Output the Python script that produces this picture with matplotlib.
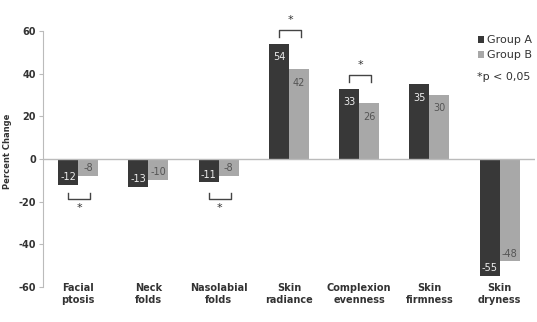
import matplotlib.pyplot as plt
import numpy as np

# data
categories = ['Facial\nptosis', 'Neck\nfolds', 'Nasolabial\nfolds', 'Skin\nradiance',
              'Complexion\nevenness', 'Skin\nfirmness', 'Skin\ndryness']
group_a = [-12, -13, -11, 54, 33, 35, -55]
group_b = [-8, -10, -8, 42, 26, 30, -48]
signif = [0, 2, 3, 4]  # categories with *p < 0,05
yticks = [-60, -40, -20, 0, 20, 40, 60]

dark = '#383838'
light = '#a8a8a8'

fig = plt.figure(figsize=(5.37, 3.22), dpi=100)
ax = fig.add_axes([0.080, 0.109, 0.916, 0.795])

x = np.arange(len(categories))
w = 0.285
bars_a = ax.bar(x - w / 2, group_a, w, color=dark, label='Group A')
bars_b = ax.bar(x + w / 2, group_b, w, color=light, label='Group B')

# value labels inside the bar ends
for bars, vals, col in [(bars_a, group_a, '#eeeeee'), (bars_b, group_b, '#555555')]:
    for b, v in zip(bars, vals):
        cx = b.get_x() + b.get_width() / 2
        if v > 0:
            ax.annotate(str(v), (cx, v), xytext=(0, -6), textcoords='offset points',
                        ha='center', va='top', fontsize=7, color=col)
        else:
            ax.annotate(str(v), (cx, v), xytext=(0, 2), textcoords='offset points',
                        ha='center', va='bottom', fontsize=7, color=col)

# significance brackets
for i in signif:
    x0, x1 = i - 0.14, i + 0.17
    if group_a[i] < 0:
        yb, yl = -19, -16
        ax.plot([x0, x0, x1, x1], [yl, yb, yb, yl], color='#444444', lw=1, clip_on=False)
        ax.text((x0 + x1) / 2, -23, '*', ha='center', va='center', fontsize=8, color='#333333')
    else:
        top = group_a[i] + 6.5
        ax.plot([x0, x0, x1, x1], [top - 3.5, top, top, top - 3.5], color='#444444', lw=1,
                clip_on=False)
        ax.text((x0 + x1) / 2, top + 4.5, '*', ha='center', va='center', fontsize=8,
                color='#333333', clip_on=False)

ax.axhline(0, color='#bbbbbb', lw=1)
ax.set_xlim(-0.5, len(categories) - 0.5)
ax.set_ylim(-60, 60)
ax.set_yticks(yticks)
ax.set_yticklabels([str(t) for t in yticks], fontsize=7, fontweight='bold', color='#333333')
ax.tick_params(axis='y', length=3, color='#bbbbbb', pad=2)
ax.set_xticks([])
for s in ['top', 'right', 'bottom']:
    ax.spines[s].set_visible(False)
ax.spines['left'].set_color('#bbbbbb')

ax.set_ylabel('Percent Change', fontsize=6, fontweight='bold', color='#333333')
ax.yaxis.set_label_coords(-0.062, 0.53)

for i, lab in enumerate(categories):
    ax.text(i, -58, lab, ha='center', va='top', fontsize=7, fontweight='bold',
            color='#333333', linespacing=1.3)

leg = ax.legend(loc='upper left', bbox_to_anchor=(0.875, 1.0), frameon=False, fontsize=8,
                handlelength=0.6, handleheight=0.6, handletextpad=0.2, labelspacing=0.45,
                borderaxespad=0)
for t in leg.get_texts():
    t.set_color('#333333')
ax.text(0.882, 0.82, '*p < 0,05', transform=ax.transAxes, fontsize=8, color='#333333',
        ha='left', va='center')

fig.savefig('out.png', dpi=100)
